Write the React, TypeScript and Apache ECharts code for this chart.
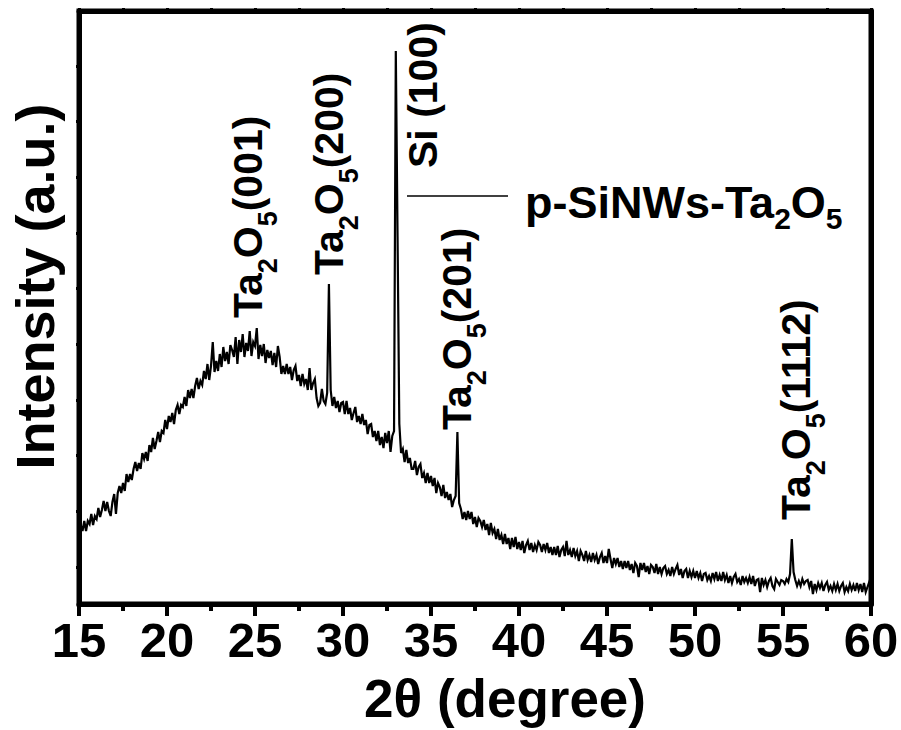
import React, { useEffect, useRef } from "react";
import * as echarts from "echarts";

// XRD scan: 2θ from 15° to 60°, step 0.1°
const scanStart = 15;
const scanStep = 0.1;
const intensity: number[] = [
  68, 79, 73, 83, 73, 83, 80, 90, 79, 88,
  85, 96, 87, 94, 103, 93, 102, 93, 88, 102,
  110, 90, 111, 118, 111, 121, 113, 130, 122, 130,
  124, 135, 142, 133, 141, 135, 151, 145, 152, 143,
  159, 152, 166, 155, 163, 172, 162, 173, 171, 184,
  175, 188, 182, 191, 180, 194, 199, 190, 199, 197,
  207, 198, 214, 206, 215, 206, 218, 226, 215, 223,
  219, 233, 225, 240, 224, 238, 262, 232, 243, 233,
  250, 237, 257, 243, 252, 240, 259, 254, 247, 267,
  240, 264, 252, 270, 247, 261, 253, 273, 248, 262,
  258, 276, 245, 259, 248, 260, 241, 254, 246, 253,
  239, 251, 237, 258, 247, 230, 238, 230, 240, 230,
  237, 224, 234, 238, 223, 229, 218, 230, 220, 225,
  214, 236, 214, 221, 225, 206, 198, 201, 215, 203,
  200, 211, 320, 214, 198, 207, 196, 203, 192, 201,
  202, 190, 203, 190, 196, 184, 191, 197, 182, 188,
  180, 190, 179, 184, 170, 179, 180, 167, 173, 163,
  173, 159, 167, 156, 171, 161, 173, 152, 168, 173,
  553, 367, 180, 151, 155, 142, 154, 141, 146, 135,
  135, 143, 129, 137, 140, 126, 131, 121, 131, 121,
  128, 118, 126, 111, 121, 117, 108, 119, 106, 112,
  104, 110, 97, 104, 108, 172, 101, 95, 85, 92,
  84, 93, 85, 92, 80, 87, 77, 86, 83, 77,
  84, 74, 80, 69, 81, 71, 75, 65, 75, 64,
  69, 60, 70, 60, 66, 55, 66, 57, 67, 55,
  62, 54, 63, 51, 59, 63, 54, 61, 52, 59,
  54, 62, 59, 52, 60, 54, 61, 51, 57, 49,
  57, 49, 58, 47, 54, 57, 48, 63, 49, 54,
  47, 56, 48, 53, 43, 53, 49, 43, 53, 44,
  49, 42, 51, 44, 49, 40, 47, 51, 41, 48,
  41, 55, 45, 36, 46, 40, 46, 37, 43, 35,
  43, 36, 43, 34, 40, 31, 41, 38, 27, 41,
  34, 41, 32, 38, 30, 39, 37, 31, 40, 30,
  37, 30, 36, 38, 30, 34, 28, 37, 30, 35,
  39, 29, 35, 26, 33, 35, 26, 33, 27, 33,
  26, 33, 26, 31, 23, 30, 31, 24, 28, 23,
  31, 25, 32, 23, 29, 23, 32, 24, 29, 21,
  28, 21, 27, 30, 22, 25, 19, 28, 22, 26,
  21, 27, 20, 28, 18, 24, 25, 12, 26, 19,
  24, 17, 23, 26, 18, 15, 25, 22, 19, 24,
  23, 20, 25, 22, 30, 65, 32, 24, 18, 23,
  18, 25, 20, 23, 24, 17, 23, 10, 20, 14,
  21, 16, 21, 13, 19, 22, 14, 18, 13, 20,
  14, 20, 13, 18, 21, 12, 17, 13, 20, 14,
  19, 13, 21, 14, 20, 12, 21, 12, 17, 22,
  12,
];

const xMin = 15;
const xMax = 60;
const xStep = 5;
const yMin = 0;
const yMax = 593;
const intensityTicks = [37, 93, 149, 204, 260, 316, 371, 427, 483, 538];

const seriesName = "p-SiNWs-Ta2O5";
const legendText = "{p|p-SiNWs-Ta}{s|2}{p|O}{s|5}";
const peakLabelTexts = [
  "{n|Ta}{s|2}{n|O}{s|5}{n|(001)}",
  "{n|Ta}{s|2}{n|O}{s|5}{n|(200)}",
  "{n|Si (100)}",
  "{n|Ta}{s|2}{n|O}{s|5}{n|(201)}",
  "{n|Ta}{s|2}{n|O}{s|5}{n|(1112)}",
];

const FONT = 'Arial, "Liberation Sans", Helvetica, sans-serif';

export default function App() {
  const ref = useRef<HTMLDivElement>(null);

  useEffect(() => {
    if (!ref.current) return;
    const chart = echarts.init(ref.current, null, { renderer: "svg" });
    const data = intensity.map((v, i) => [
      Math.round((scanStart + i * scanStep) * 100) / 100,
      v,
    ]);

    const lineStyle = { color: "#000", width: 5 };

    chart.setOption({
      animation: false,
      backgroundColor: "#fff",
      grid: {
        left: 79,
        right: 30,
        top: 11,
        bottom: 126,
        show: true,
        borderColor: "#000",
        borderWidth: 5,
        backgroundColor: "transparent",
        containLabel: false,
        outerBoundsMode: "none",
      },
      xAxis: [
        {
          type: "value",
          position: "bottom",
          min: xMin,
          max: xMax,
          interval: xStep,
          name: "2θ (degree)",
          nameLocation: "middle",
          nameGap: 72,
          nameMoveOverlap: false,
          nameTextStyle: {
            fontFamily: FONT,
            fontWeight: "bold",
            fontSize: 53,
            lineHeight: 44,
            color: "#000",
            padding: [0, 0, 0, 60],
          },
          axisLine: { show: true, onZero: false, lineStyle },
          axisTick: {
            show: true,
            inside: false,
            length: 12,
            lineStyle: { color: "#000", width: 4 },
          },
          minorTick: {
            show: true,
            splitNumber: 2,
            length: 7,
            lineStyle: { color: "#000", width: 4 },
          },
          axisLabel: {
            fontFamily: FONT,
            fontWeight: "bold",
            fontSize: 49,
            lineHeight: 40,
            color: "#000",
            margin: 16,
          },
          splitLine: { show: false },
          minorSplitLine: { show: false },
        },
        {
          type: "value",
          position: "top",
          min: xMin,
          max: xMax,
          interval: xStep,
          axisLine: { show: true, onZero: false, lineStyle },
          axisTick: {
            show: true,
            inside: false,
            length: 3,
            lineStyle: { color: "#000", width: 3 },
          },
          minorTick: {
            show: true,
            splitNumber: 2,
            length: 3,
            lineStyle: { color: "#000", width: 3 },
          },
          axisLabel: { show: false },
          splitLine: { show: false },
        },
      ],
      yAxis: [
        {
          type: "value",
          position: "left",
          min: yMin,
          max: yMax,
          name: "Intensity (a.u.)",
          nameLocation: "middle",
          nameGap: 17,
          nameMoveOverlap: false,
          nameTextStyle: {
            fontFamily: FONT,
            fontWeight: "bold",
            fontSize: 54,
            color: "#000",
            padding: [0, 0, 0, 42],
          },
          axisLine: { show: true, onZero: false, lineStyle },
          axisTick: {
            show: true,
            inside: false,
            length: 3,
            customValues: intensityTicks,
            lineStyle: { color: "#000", width: 3 },
          },
          axisLabel: { show: false },
          splitLine: { show: false },
        },
        {
          type: "value",
          position: "right",
          min: yMin,
          max: yMax,
          axisLine: { show: true, onZero: false, lineStyle },
          axisTick: {
            show: true,
            inside: false,
            length: 3,
            customValues: intensityTicks,
            lineStyle: { color: "#000", width: 3 },
          },
          axisLabel: { show: false },
          splitLine: { show: false },
        },
      ],
      series: [
        {
          type: "line",
          name: seriesName,
          xAxisIndex: 0,
          yAxisIndex: 0,
          data,
          symbol: "none",
          showSymbol: false,
          lineStyle: { color: "#000", width: 2.2, join: "miter" },
          itemStyle: { color: "#000" },
          z: 3,
        },
      ],
    });

    // Peak annotation anchors in data coordinates (start of rotated label)
    const anchors: [number, number][] = [
      [24.6, 286],
      [29.2, 329],
      [34.55, 436],
      [36.48, 174],
      [55.74, 84],
    ];
    const mainRich = { fontFamily: FONT, fontWeight: "bold", fontSize: 41 };
    const subRich = {
      fontFamily: FONT,
      fontWeight: "bold",
      fontSize: 27,
      padding: [40, 0, 0, 0],
    };
    const graphics: any[] = peakLabelTexts.map((t, i) => {
      const p = chart.convertToPixel({ xAxisIndex: 0, yAxisIndex: 0 }, anchors[i]) as number[];
      return {
        type: "text",
        x: p[0],
        y: p[1],
        rotation: Math.PI / 2,
        z: 10,
        style: {
          text: t,
          fill: "#000",
          textAlign: "left",
          textVerticalAlign: "middle",
          align: "left",
          verticalAlign: "middle",
          fontFamily: FONT,
          fontWeight: "bold",
          fontSize: 41,
          rich: { n: mainRich, s: subRich },
        },
      };
    });

    // Legend key (line + label)
    graphics.push({
      type: "line",
      z: 10,
      shape: { x1: 407, y1: 196, x2: 508, y2: 196 },
      style: { stroke: "#000", lineWidth: 1.5 },
    });
    graphics.push({
      type: "text",
      x: 525,
      y: 202.5,
      z: 10,
      style: {
        text: legendText,
        fill: "#000",
        textAlign: "left",
        textVerticalAlign: "middle",
        align: "left",
        verticalAlign: "middle",
        fontFamily: FONT,
        fontWeight: "bold",
        fontSize: 45,
        rich: {
          p: { fontFamily: FONT, fontWeight: "bold", fontSize: 45 },
          s: { fontFamily: FONT, fontWeight: "bold", fontSize: 30, padding: [32, 0, 0, 0] },
        },
      },
    });

    chart.setOption({ graphic: graphics });

    return () => chart.dispose();
  }, []);

  return (
    <div
      ref={ref}
      style={{
        position: "fixed",
        left: 0,
        top: 0,
        width: 901,
        height: 730,
        background: "#fff",
      }}
    />
  );
}
